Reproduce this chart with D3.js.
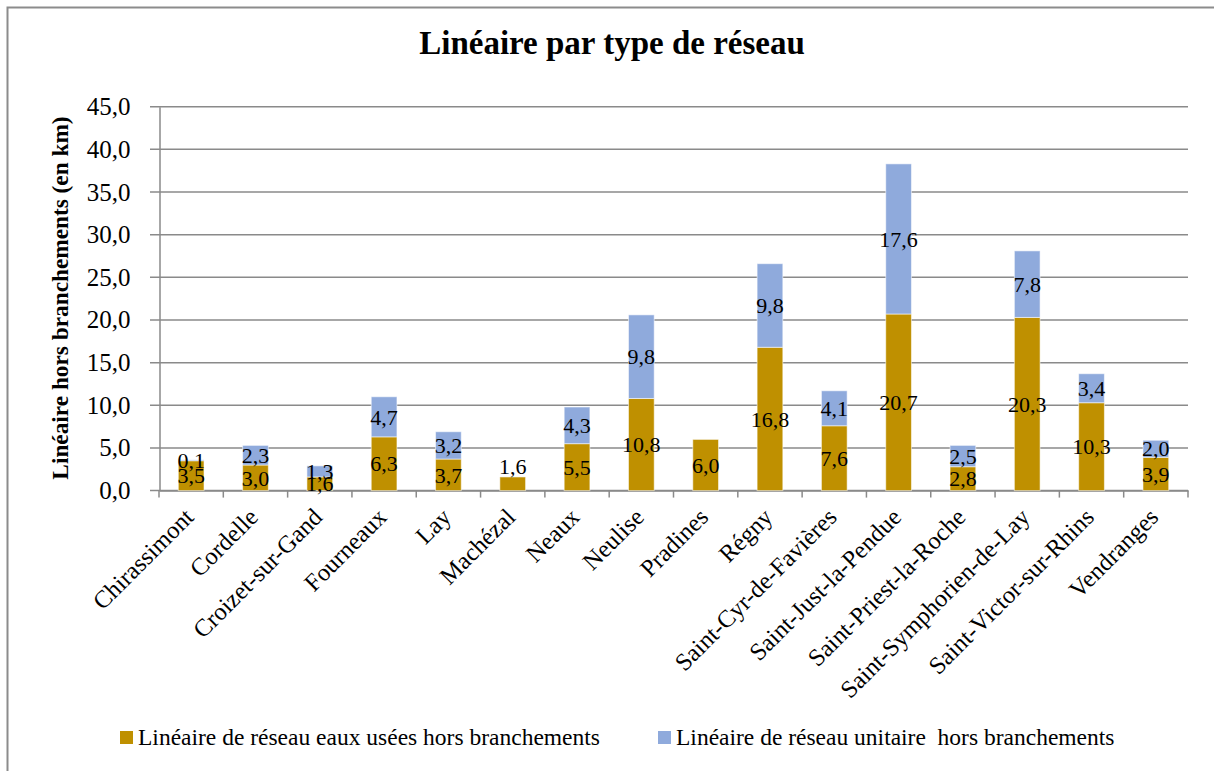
<!DOCTYPE html>
<html lang="fr">
<head>
<meta charset="utf-8">
<script src="https://cdn.jsdelivr.net/npm/d3@7"></script>
<style>
  html, body { margin: 0; padding: 0; background: #fff; }
  svg, svg text { font-family: "Liberation Serif", "Times New Roman", serif; }
</style>
</head>
<body>
<svg id="chart" width="1214" height="771"></svg>
<script>
// Communes du réseau
const communes = [
  "Chirassimont", "Cordelle", "Croizet-sur-Gand", "Fourneaux", "Lay", "Machézal",
  "Neaux", "Neulise", "Pradines", "Régny", "Saint-Cyr-de-Favières",
  "Saint-Just-la-Pendue", "Saint-Priest-la-Roche", "Saint-Symphorien-de-Lay",
  "Saint-Victor-sur-Rhins", "Vendranges"
];
// Linéaire (km) hors branchements
const eauxUsees = [3.5, 3.0, 1.6, 6.3, 3.7, 1.6, 5.5, 10.8, 6.0, 16.8, 7.6, 20.7, 2.8, 20.3, 10.3, 3.9];
const unitaire  = [0.1, 2.3, 1.3, 4.7, 3.2, 0,   4.3, 9.8,  0,   9.8, 4.1, 17.6, 2.5, 7.8,  3.4,  2.0];
const yTicks = [0, 5, 10, 15, 20, 25, 30, 35, 40, 45];
const seriesNames = [
  "Linéaire de réseau eaux usées hors branchements",
  "Linéaire de réseau unitaire  hors branchements"
];
const seriesColors = ["#bf9000", "#8faadc"];
// communes dont l'étiquette est posée au-dessus de la barre
const labelAbove = ["Machézal"];

const FONT = '"Liberation Serif", "Times New Roman", serif';
const svg = d3.select("#chart");
const fmt = v => d3.format(".1f")(v).replace(".", ",");

// cadre du graphique
svg.append("rect")
  .attr("x", 7.5).attr("y", 7.5)
  .attr("width", 1240).attr("height", 800)
  .attr("fill", "#fff").attr("stroke", "#8c8c8c").attr("stroke-width", 2);

// titre
svg.append("text")
  .attr("x", 612).attr("y", 54)
  .attr("text-anchor", "middle")
  .style("font-family", FONT)
  .attr("font-size", 33).attr("font-weight", "bold")
  .text("Linéaire par type de réseau");

const x = d3.scaleBand().domain(communes).range([159, 1188]).padding(0);
const y = d3.scaleLinear().domain([0, 45]).range([490.6, 106.7]);

// quadrillage horizontal
svg.append("g").selectAll("line").data(yTicks).join("line")
  .attr("x1", 150).attr("x2", 1188)
  .attr("y1", d => y(d)).attr("y2", d => y(d))
  .attr("stroke", "#8a8a8a").attr("stroke-width", 1.5);

// axe vertical
const yAxis = svg.append("g").attr("transform", "translate(159.5,0)")
  .call(d3.axisLeft(y).tickValues(yTicks).tickFormat(fmt).tickSize(0).tickPadding(29));
yAxis.attr("font-family", null);
yAxis.select(".domain").attr("stroke", "#8a8a8a").attr("stroke-width", 1.5);
yAxis.selectAll("text").attr("font-size", 25).attr("fill", "#000")
  .style("font-family", FONT);

svg.append("text")
  .attr("transform", "translate(68,298) rotate(-90)")
  .attr("text-anchor", "middle")
  .style("font-family", FONT)
  .attr("font-size", 23.3).attr("font-weight", "bold")
  .text("Linéaire hors branchements (en km)");

// axe horizontal
const xAxis = svg.append("g").attr("transform", `translate(0,${y(0)})`)
  .call(d3.axisBottom(x).tickSize(0).tickFormat(""));
xAxis.select(".domain").attr("stroke", "#8a8a8a").attr("stroke-width", 1.5);
svg.append("g").selectAll("line").data(communes.concat([null])).join("line")
  .attr("x1", (d, i) => i < communes.length ? x(d) : x.range()[1])
  .attr("x2", (d, i) => i < communes.length ? x(d) : x.range()[1])
  .attr("y1", y(0)).attr("y2", y(0) + 7)
  .attr("stroke", "#8a8a8a").attr("stroke-width", 1.5);

svg.append("g").selectAll("text").data(communes).join("text")
  .attr("transform", d => `translate(${x(d) + x.bandwidth() / 2 + 4},${y(0) + 28}) rotate(-45)`)
  .attr("text-anchor", "end")
  .style("font-family", FONT)
  .attr("font-size", 24.5)
  .text(d => d);

// barres empilées
const rows = communes.map((c, i) => ({ commune: c, eu: eauxUsees[i], un: unitaire[i] }));
const stack = d3.stack().keys(["eu", "un"])(rows);
const barW = x.step() * 0.4;

const layers = svg.append("g").selectAll("g").data(stack).join("g")
  .attr("fill", (d, i) => seriesColors[i]);
layers.selectAll("rect").data(d => d.filter(s => s[1] - s[0] > 0)).join("rect")
  .attr("x", s => x(s.data.commune) + (x.bandwidth() - barW) / 2)
  .attr("width", barW)
  .attr("y", s => y(s[1]))
  .attr("height", s => y(s[0]) - y(s[1]))
  .attr("stroke", "rgba(255,255,255,0.55)").attr("stroke-width", 1);

// étiquettes de valeurs
const labels = svg.append("g").attr("font-size", 22).attr("text-anchor", "middle");
stack.forEach(layer => {
  layer.forEach(s => {
    const v = s[1] - s[0];
    if (v <= 0) return;
    const cx = x(s.data.commune) + x.bandwidth() / 2;
    const above = labelAbove.includes(s.data.commune) && s.data.un === 0;
    labels.append("text")
      .attr("x", cx)
      .attr("y", above ? y(s[1]) - 3 : (y(s[0]) + y(s[1])) / 2)
      .attr("dy", above ? 0 : "0.35em")
      .style("font-family", FONT)
      .text(fmt(v));
  });
});

// légende
const legend = svg.append("g");
const legendX = [120, 658];
seriesNames.forEach((name, i) => {
  legend.append("rect")
    .attr("x", legendX[i]).attr("y", 731)
    .attr("width", 13).attr("height", 13)
    .attr("fill", seriesColors[i]);
  legend.append("text")
    .attr("x", legendX[i] + 18).attr("y", 745)
    .attr("font-size", 23.5)
    .style("font-family", FONT)
    .style("white-space", "pre")
    .text(name);
});
</script>
</body>
</html>
